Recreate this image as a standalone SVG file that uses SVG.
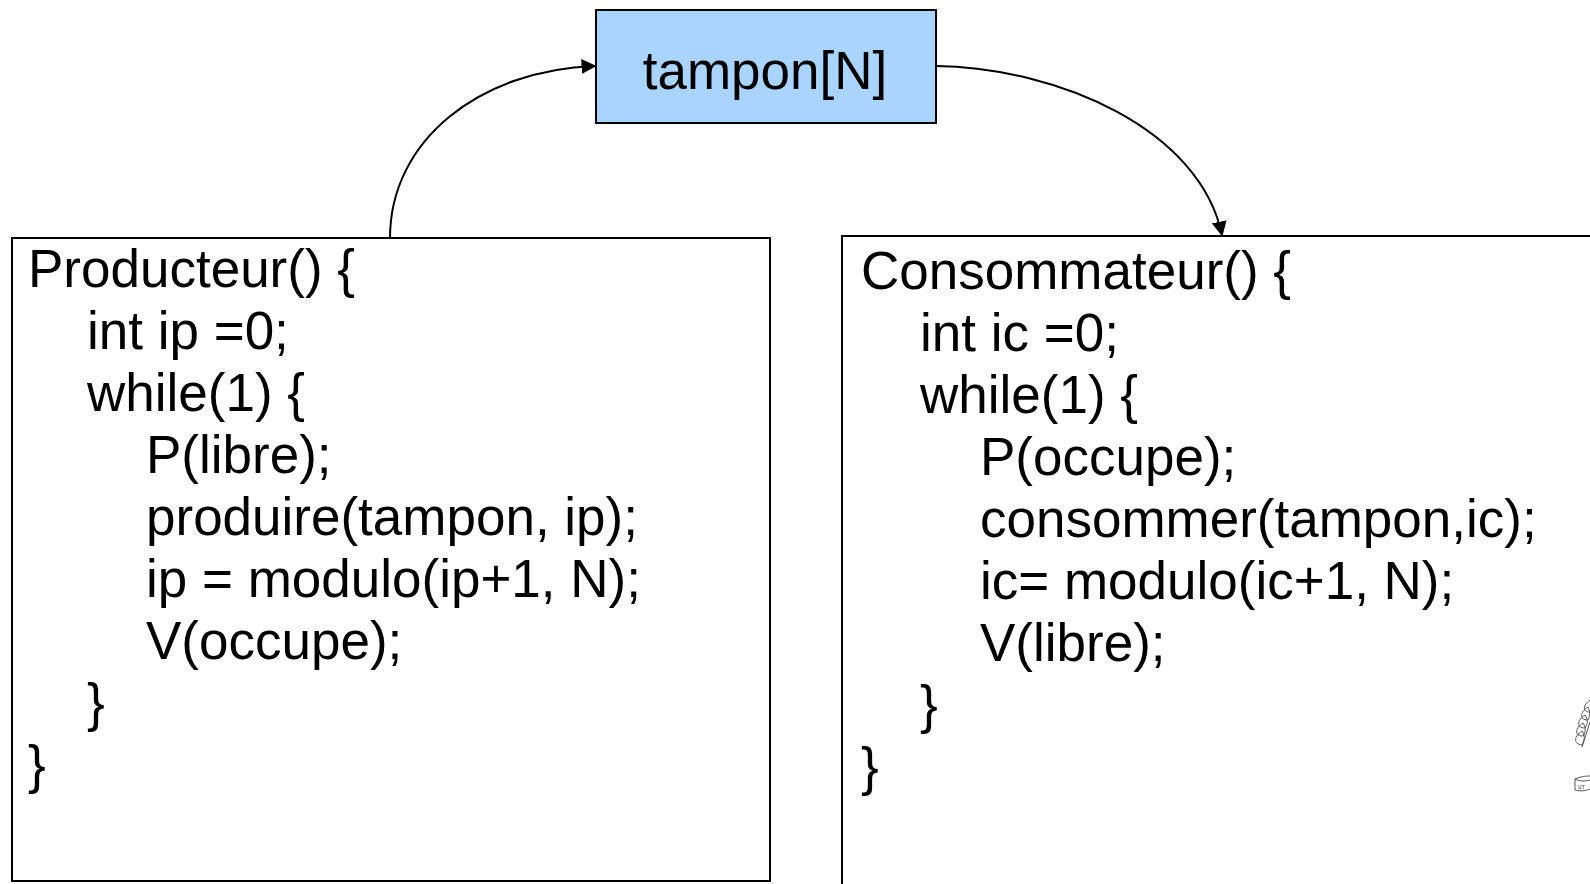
<svg xmlns="http://www.w3.org/2000/svg" width="1590" height="884" viewBox="0 0 1590 884">
<defs>
<style>
.code{font-family:"Liberation Sans",Arial,sans-serif;font-size:53px;fill:#000}
.box{fill:#fff;stroke:#000;stroke-width:2}
.conn{fill:none;stroke:#000;stroke-width:2}
.logo{fill:none;stroke:#444;stroke-width:0.9}
</style>
<marker id="arr" viewBox="0 0 10 10" refX="9" refY="5" markerWidth="7.5" markerHeight="7.5" markerUnits="strokeWidth" orient="auto">
<path d="M0,0 L10,5 L0,10 z" fill="#000"/>
</marker>
</defs>
<rect width="1590" height="884" fill="#fff"/>
<g id="tampon">
<rect x="596" y="10" width="340" height="113" fill="#a8d4fd" stroke="#000" stroke-width="2"/>
<text class="code" x="765" y="89" text-anchor="middle">tampon[N]</text>
</g>
<g id="producteur">
<rect class="box" x="12" y="238" width="758" height="643"/>
<text class="code" x="28" y="287">Producteur() {</text>
<text class="code" x="87" y="349">int ip =0;</text>
<text class="code" x="87" y="411">while(1) {</text>
<text class="code" x="146" y="473">P(libre);</text>
<text class="code" x="146" y="535">produire(tampon, ip);</text>
<text class="code" x="146" y="597">ip = modulo(ip+1, N);</text>
<text class="code" x="146" y="659">V(occupe);</text>
<text class="code" x="87" y="721">}</text>
<text class="code" x="28" y="783">}</text>
</g>
<g id="consommateur">
<rect class="box" x="842" y="236" width="800" height="700"/>
<text class="code" x="861" y="289">Consommateur() {</text>
<text class="code" x="920" y="351">int ic =0;</text>
<text class="code" x="920" y="413">while(1) {</text>
<text class="code" x="980" y="475">P(occupe);</text>
<text class="code" x="980" y="537">consommer(tampon,ic);</text>
<text class="code" x="980" y="599">ic= modulo(ic+1, N);</text>
<text class="code" x="980" y="661">V(libre);</text>
<text class="code" x="920" y="723">}</text>
<text class="code" x="861" y="785">}</text>
</g>
<g id="logo">
<path class="logo" d="M1590,700 C1583,705 1582,712 1590,712"/>
<path class="logo" d="M1588,707 C1580,712 1579,720 1588,720 C1590,716 1590,711 1588,707z"/>
<path class="logo" d="M1585,715 C1577,720 1576,728 1585,728 C1588,724 1588,719 1585,715z"/>
<path class="logo" d="M1583,723 C1575,728 1574,736 1583,736 C1586,732 1586,727 1583,723z"/>
<path class="logo" d="M1582,731 C1574,736 1573,744 1582,745 C1585,740 1585,735 1582,731z"/>
<path class="logo" d="M1590,722 L1582,747"/>
<path class="logo" d="M1575,779 C1582,776 1588,776 1590,776 M1575,779 L1575,790 C1582,792 1587,790 1590,789 M1575,779 C1580,782 1586,781 1590,780"/>
<text x="1578" y="789" font-family="'Liberation Mono',monospace" font-size="6" fill="#444">UT</text>
</g>
<g id="connectors">
<path class="conn" d="M390,238 C390,140 480,70 595,66" marker-end="url(#arr)"/>
<path class="conn" d="M936,66 C1060,68 1200,130 1222,235" marker-end="url(#arr)"/>
</g>
</svg>
